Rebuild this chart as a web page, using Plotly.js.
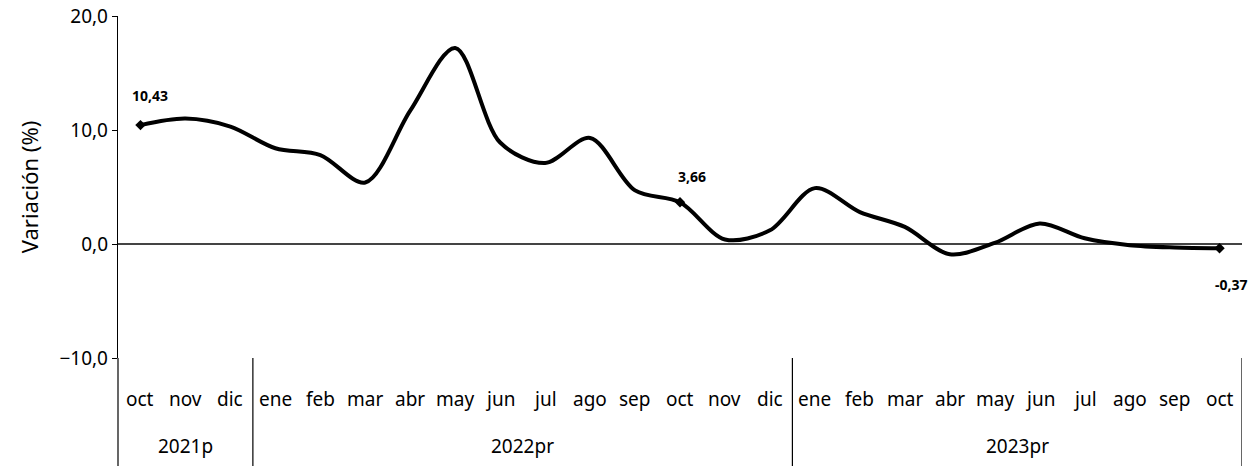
<!DOCTYPE html>
<html>
<head>
<meta charset="utf-8">
<script src="https://cdn.plot.ly/plotly-3.0.1.min.js"></script>
<style>
  html, body { margin: 0; padding: 0; background: #fff; }
  #chart { width: 1251px; height: 466px; }
</style>
</head>
<body>
<div id="chart"></div>
<script>
var months = ['oct', 'nov', 'dic',
  'ene', 'feb', 'mar', 'abr', 'may', 'jun', 'jul', 'ago', 'sep', 'oct', 'nov', 'dic',
  'ene', 'feb', 'mar', 'abr', 'may', 'jun', 'jul', 'ago', 'sep', 'oct'];
var years = ['2021p', '2022pr', '2023pr'];
var yearStart = [0, 3, 15];
var yearEnd = [2, 14, 24];
var variacion = [10.43, 11.0, 10.3, 8.4, 7.8, 5.4, 11.7, 17.2, 8.9, 7.1, 9.3, 4.7, 3.66,
  0.4, 1.2, 4.9, 2.8, 1.5, -0.9, 0.1, 1.8, 0.5, -0.1, -0.3, -0.37];
var labelled = [0, 12, 24];
var labelText = ['10,43', '3,66', '-0,37'];

var xs = months.map(function (m, i) { return i; });
var font = 'Noto Sans, Open Sans, sans-serif';

var traces = [
  {
    x: xs,
    y: variacion,
    type: 'scatter',
    mode: 'lines',
    line: { color: '#000', width: 4, shape: 'spline', smoothing: 0.9 },
    hoverinfo: 'skip',
    showlegend: false
  },
  {
    x: labelled.map(function (i) { return xs[i]; }),
    y: labelled.map(function (i) { return variacion[i]; }),
    type: 'scatter',
    mode: 'markers',
    marker: { color: '#000', size: 8, symbol: 'diamond' },
    hoverinfo: 'skip',
    showlegend: false
  }
];

var annotations = [];
months.forEach(function (m, i) {
  annotations.push({
    x: i, xref: 'x', y: -0.12, yref: 'paper', yanchor: 'middle',
    text: m, showarrow: false,
    font: { family: font, size: 19, color: '#000' }
  });
});
years.forEach(function (yr, k) {
  annotations.push({
    x: (yearStart[k] + yearEnd[k]) / 2, xref: 'x', y: -0.258, yref: 'paper', yanchor: 'middle',
    text: yr, showarrow: false,
    font: { family: font, size: 19, color: '#000' }
  });
});
var labelOffsets = [[10, 30], [12, 26], [12, -36]];
labelled.forEach(function (i, k) {
  annotations.push({
    x: xs[i], y: variacion[i], xref: 'x', yref: 'y',
    text: '<b>' + labelText[k] + '</b>', showarrow: false,
    xshift: labelOffsets[k][0], yshift: labelOffsets[k][1],
    font: { family: font, size: 14, color: '#000' }
  });
});

var shapes = [
  { type: 'line', xref: 'paper', yref: 'paper', x0: 0, x1: 0, y0: -0.32, y1: 0,
    line: { color: '#000', width: 1.2 } }
];
[2.5, 14.5, 24.5].forEach(function (b) {
  shapes.push({ type: 'line', xref: 'x', yref: 'paper', x0: b, x1: b, y0: -0.32, y1: 0,
    line: { color: '#000', width: 1.2 } });
});

var layout = {
  width: 1251,
  height: 466,
  margin: { l: 118, r: 9, t: 16, b: 108 },
  paper_bgcolor: '#fff',
  plot_bgcolor: '#fff',
  separators: ',.',
  showlegend: false,
  xaxis: {
    range: [-0.5, 24.5],
    showticklabels: false,
    showgrid: false,
    zeroline: false,
    showline: false,
    ticks: ''
  },
  yaxis: {
    range: [-10, 20],
    tickvals: [-10, 0, 10, 20],
    tickformat: '.1f',
    showgrid: false,
    zeroline: true,
    zerolinecolor: '#444',
    zerolinewidth: 1.5,
    showline: true,
    linecolor: '#000',
    linewidth: 1.2,
    ticks: 'outside',
    ticklen: 5,
    tickcolor: '#000',
    tickfont: { family: font, size: 19, color: '#000' },
    title: { text: 'Variación (%)', font: { family: font, size: 22, color: '#000' }, standoff: 14 }
  },
  annotations: annotations,
  shapes: shapes
};

Plotly.newPlot('chart', traces, layout, { displayModeBar: false, staticPlot: true });
</script>
</body>
</html>
